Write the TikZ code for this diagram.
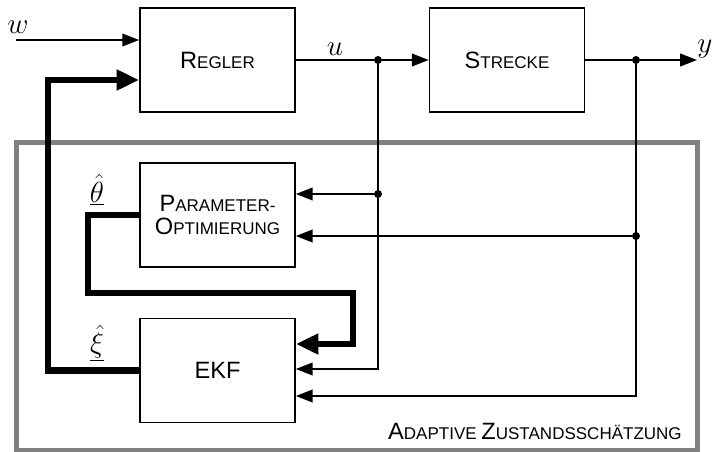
\documentclass[tikz,border=0pt]{standalone}
\usepackage{fontspec}
\setsansfont{Liberation Sans}
\usetikzlibrary{arrows.meta}
\definecolor{framegray}{RGB}{128,128,128}
\newcommand{\initial}[1]{{\fontsize{16.8}{17}\selectfont #1}}

\begin{document}
\begin{tikzpicture}[font=\sffamily,
  block/.style={draw, line width=1.2pt, minimum width=3.875cm, minimum height=2.6cm,
    align=center, inner sep=0pt, font=\sffamily\fontsize{12.1}{17}\selectfont},
  wire/.style={line width=1.4pt},
  sig/.style={wire, -{Triangle[length=12pt,width=9pt]}},
  bus/.style={line width=4.5pt, -{Triangle[length=16pt,width=14pt]}},
  tap/.style={circle, fill, inner sep=0pt, minimum size=0.2cm},
  var/.style={font=\fontsize{21}{24}\selectfont}]
\useasboundingbox (0,0) rectangle (17.9,11.275);

% ---- adaptive estimator frame ----
\draw[line width=3.5pt, framegray] (0.42,0.025) rectangle (17.43,7.71);
\node[anchor=base east, inner sep=0pt, font=\sffamily\fontsize{12.1}{14}\selectfont]
  (adaptlabel) at (17.05,0.3) {\initial{A}DAPTIVE \initial{Z}USTANDSSCHÄTZUNG};

% ---- blocks ----
\node[block] (regler) at (5.4375,9.775) {\initial{R}EGLER};
\node[block] (strecke) at (12.675,9.775) {\initial{S}TRECKE};
\node[block] (param) at (5.4375,5.9) {\initial{P}ARAMETER-\\\initial{O}PTIMIERUNG};
\node[block] (ekf) at (5.4375,2.0125) {\initial{EKF}};

% ---- branch points ----
\node[tap] (udot) at (9.45,9.775) {};
\node[tap] (ydot) at (15.9,9.775) {};
\node[tap] (pudot) at (9.45,6.425) {};
\node[tap] (pydot) at (15.9,5.375) {};
\coordinate (win) at (0.4,10.275);
\coordinate (yout) at (17.425,9.775);
\coordinate (ekfu) at (9.45,2.05);
\coordinate (ekfy) at (15.9,1.375);
\coordinate (thleft) at (2.2,3.95);
\coordinate (thright) at (8.825,3.95);
\coordinate (xicorner) at (1.2,9.275);

% ---- main loop ----
\draw[sig] (win) -- (win -| regler.west);
\draw[wire] (regler.east) -- (udot);
\draw[sig] (udot) -- (strecke.west);
\draw[wire] (strecke.east) -- (ydot);
\draw[sig] (ydot) -- (yout);

% ---- measurements into the estimator ----
\draw[sig] (pudot) -- (pudot -| param.east);
\draw[sig] (pydot) -- (pydot -| param.east);
\draw[sig] (udot) |- (ekfu -| ekf.east);
\draw[sig] (ydot) |- (ekfy -| ekf.east);

% ---- estimates (thick) ----
\draw[bus] (param.west) -| (thleft) -- (thright) |- ([yshift=0.6625cm]ekf.east);
\draw[bus] (ekf.west) -| (xicorner) -- ([yshift=-0.5cm]regler.west);

% ---- signal names ----
\node[var] (wlabel) at (0.45,10.59) {$w$};
\node[var] (ulabel) at (8.375,10.05) {$u$};
\node[var] (ylabel) at (17.62,10.05) {$y$};
\node[var] (thetalabel) at (2.425,6.525) {$\underline{\hat{\theta}}$};
\node[var] (xilabel) at (2.425,2.7) {$\underline{\hat{\xi}}$};
\end{tikzpicture}
\end{document}
